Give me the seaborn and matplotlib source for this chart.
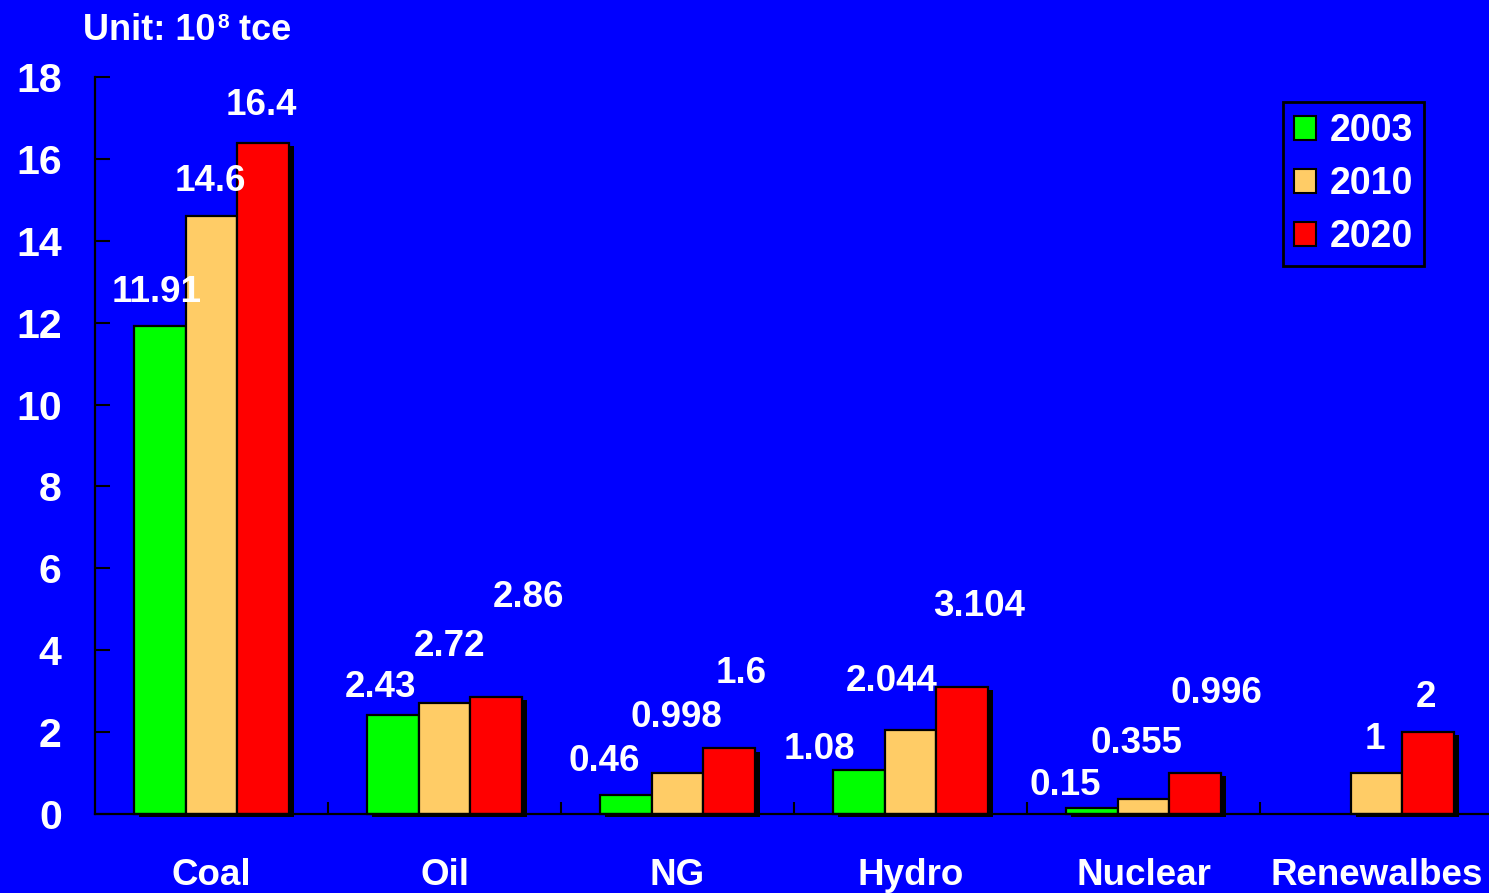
import matplotlib
matplotlib.use("Agg")
import matplotlib.pyplot as plt
import matplotlib.patheffects as pe
from matplotlib.ticker import FixedLocator
from matplotlib.transforms import offset_copy
import numpy as np
import pandas as pd
import seaborn as sns

# Energy demand by source, unit: 10^8 tce
sources = ["Coal", "Oil", "NG", "Hydro", "Nuclear", "Renewalbes"]
years = ["2003", "2010", "2020"]
demand_2003 = [11.91, 2.43, 0.46, 1.08, 0.15, np.nan]
demand_2010 = [14.6, 2.72, 0.998, 2.044, 0.355, 1]
demand_2020 = [16.4, 2.86, 1.6, 3.104, 0.996, 2]
y_ticks = [0, 2, 4, 6, 8, 10, 12, 14, 16, 18]

series = {"2003": demand_2003, "2010": demand_2010, "2020": demand_2020}
df = pd.DataFrame(
    [(s, y, series[y][i]) for y in years for i, s in enumerate(sources)],
    columns=["source", "year", "value"],
)

BG = "#0000FF"
palette = {"2003": "#00FF00", "2010": "#FFCC66", "2020": "#FF0000"}

sns.set_theme(style="white")
plt.rcParams["font.family"] = ["Liberation Sans", "DejaVu Sans"]
plt.rcParams["font.weight"] = "bold"

W, H = 1489, 893
fig = plt.figure(figsize=(W / 100, H / 100), dpi=100, facecolor=BG)
ax = fig.add_axes([95 / W, 79 / H, 1398 / W, 737 / H])
ax.set_facecolor(BG)

sns.barplot(
    data=df, x="source", y="value", hue="year", order=sources,
    hue_order=years, palette=palette, width=0.665, gap=0,
    edgecolor="black", linewidth=1.6, saturation=1, ax=ax, legend=True,
)

# label offsets (pixels) from each bar's top centre: (dx, dy)
label_shift = {
    (0, 0): (-3, 34), (1, 0): (-1, 35), (2, 0): (-2, 37),
    (0, 1): (-12, 27), (1, 1): (5, 56), (2, 1): (32, 99),
    (0, 2): (-22, 34), (1, 2): (-1, 56), (2, 2): (12, 75),
    (0, 3): (-39, 20), (1, 3): (-19, 49), (2, 3): (17, 80),
    (0, 4): (-27, 22), (1, 4): (-7, 56), (2, 4): (21, 80),
    (1, 5): (-2, 34), (2, 5): (-2, 35),
}

shadow = [pe.SimplePatchShadow(offset=(3.6, -2.2), shadow_rgbFace="black", alpha=1.0),
          pe.Normal()]
for yi, cont in enumerate(ax.containers):
    vals = series[years[yi]]
    for bar in cont:
        h = bar.get_height()
        if not np.isfinite(h) or h == 0:
            continue
        bar.set_clip_on(False)
        bar.set_path_effects(shadow)
        cx = bar.get_x() + bar.get_width() / 2
        ci = int(round(cx))
        dx, dy = label_shift.get((yi, ci), (0, 30))
        ax.annotate(f"{vals[ci]:g}", (cx, h), xytext=(dx, dy),
                    textcoords="offset pixels", ha="center", va="center",
                    color="white", fontsize=26.5, fontweight="bold")

ax.set_xlim(-0.5, 5.5)
ax.set_ylim(0, 18)
ax.set_yticks(y_ticks)
ax.set_xlabel("")
ax.set_ylabel("")

for side in ("top", "right"):
    ax.spines[side].set_visible(False)
for side in ("left", "bottom"):
    ax.spines[side].set_color("black")
    ax.spines[side].set_linewidth(1.6)

ax.tick_params(axis="y", left=True, direction="in", length=11, width=1.5,
               color="black", labelsize=29.5, labelcolor="white", pad=24)
ax.tick_params(axis="x", which="major", bottom=False, length=0, labelsize=26.5,
               labelcolor="white", pad=32)
ax.xaxis.set_minor_locator(FixedLocator([0.5, 1.5, 2.5, 3.5, 4.5]))
ax.tick_params(axis="x", which="minor", bottom=True, direction="in", length=9,
               width=1.5, color="black")
for lab in ax.get_xticklabels() + ax.get_yticklabels():
    lab.set_fontweight("bold")

leg = ax.legend(
    loc="upper right", bbox_to_anchor=(1424 / W, 1 - 102 / H),
    bbox_transform=fig.transFigure, borderaxespad=0, fontsize=27,
    frameon=True, fancybox=False, facecolor=BG, edgecolor="black",
    handlelength=0.6, handleheight=0.6, handletextpad=0.35,
    labelspacing=0.45, borderpad=0.3, title=None,
)
leg.get_frame().set_linewidth(2)
leg.get_frame().set_alpha(1)
for t in leg.get_texts():
    t.set_color("white")
    t.set_fontweight("bold")
for hnd in leg.legend_handles:
    hnd.set_edgecolor("black")
    hnd.set_linewidth(1.5)
    hnd.set_path_effects([])

# unit note with a small superscript exponent
renderer = fig.canvas.get_renderer()
unit_kw = dict(color="white", fontweight="bold", ha="left", va="baseline")
t1 = fig.text(83 / W, 1 - 40 / H, "Unit: 10", fontsize=26, **unit_kw)
w1 = t1.get_window_extent(renderer).width
t2 = fig.text(0, 0, "8", fontsize=15,
              transform=offset_copy(t1.get_transform(), fig=fig, x=w1 + 1.5,
                                    y=12, units="dots"), **unit_kw)
t2.set_position(t1.get_position())
w2 = t2.get_window_extent(renderer).width
fig.text(0, 0, " tce", fontsize=26,
         transform=offset_copy(t1.get_transform(), fig=fig, x=w1 + w2 + 1.5,
                               y=0, units="dots"), **unit_kw).set_position(t1.get_position())

fig.savefig("out.png", dpi=100, facecolor=BG)
